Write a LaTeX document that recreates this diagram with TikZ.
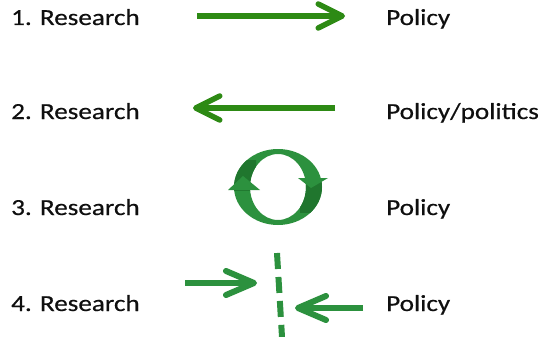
\documentclass[tikz,border=0pt]{standalone}
\usepackage{fontspec}
\setmainfont{Carlito}[FakeStretch=1.18, FakeBold=0.5]
\usetikzlibrary{arrows.meta,positioning}
\definecolor{darkgreen}{RGB}{45,138,20}
\definecolor{leafgreen}{RGB}{44,145,62}
\definecolor{shadegreen}{RGB}{32,118,46}
\definecolor{textgray}{RGB}{15,15,15}

\begin{document}
\begin{tikzpicture}[x=1pt, y=-1pt,
  txt/.style={anchor=base west, inner sep=0pt, text=textgray, font=\fontsize{23}{27}\selectfont},
  bigarrow/.style={line width=5.5pt, darkgreen, -{Straight Barb[length=24pt, width=24pt, round]}},
  smallarrow/.style={line width=6pt, leafgreen, -{Straight Barb[length=28pt, width=24pt, round]}},
  wall/.style={line width=6pt, leafgreen, dash pattern=on 16pt off 8pt}
]
  \useasboundingbox (0,0) rectangle (544,337);

  % Labels
  \node[txt] (r1) at (11,25) {1. Research};
  \node[txt] (p1) at (386,25) {Policy};
  \node[txt] (r2) at (11,119) {2. Research};
  \node[txt] (p2) at (386,119) {Policy/politics};
  \node[txt] (r3) at (11,215) {3. Research};
  \node[txt] (p3) at (386,215) {Policy};
  \node[txt] (r4) at (11,311) {4. Research};
  \node[txt] (p4) at (386,311) {Policy};

  % Row 1 and 2
  \coordinate (a1s) at (197,16);
  \coordinate (a1e) at (345,16);
  \coordinate (a2s) at (335,108);
  \coordinate (a2e) at (193,108);
  \draw[bigarrow] (a1s) -- (a1e);
  \draw[bigarrow] (a2s) -- (a2e);

  % Row 3: circular arrows
  \coordinate (loop) at (278,187);
  \fill[leafgreen, even odd rule] (loop) ellipse [x radius=44pt, y radius=38pt]
    (loop) ellipse [x radius=28pt, y radius=33pt];
  \begin{scope}
    \clip (230,160) rectangle (256,190);
    \fill[shadegreen, even odd rule] (loop) ellipse [x radius=44pt, y radius=38pt]
      (loop) ellipse [x radius=28pt, y radius=33pt];
  \end{scope}
  \begin{scope}
    \clip (300,178) rectangle (326,212);
    \fill[shadegreen, even odd rule] (loop) ellipse [x radius=44pt, y radius=38pt]
      (loop) ellipse [x radius=28pt, y radius=33pt];
  \end{scope}
  \fill[leafgreen] (228,190) -- (243,176) -- (260,190) -- cycle;
  \fill[leafgreen] (298,178) -- (328,178) -- (311,188) -- cycle;

  % Row 4
  \coordinate (a4s) at (185,283);
  \coordinate (a4e) at (257,283);
  \coordinate (a5s) at (363,308);
  \coordinate (a5e) at (295,308);
  \coordinate (wtop) at (277,253);
  \coordinate (wbot) at (282,337);
  \draw[smallarrow] (a4s) -- (a4e);
  \draw[smallarrow] (a5s) -- (a5e);
  \draw[wall] (wtop) -- (wbot);
\end{tikzpicture}
\end{document}
